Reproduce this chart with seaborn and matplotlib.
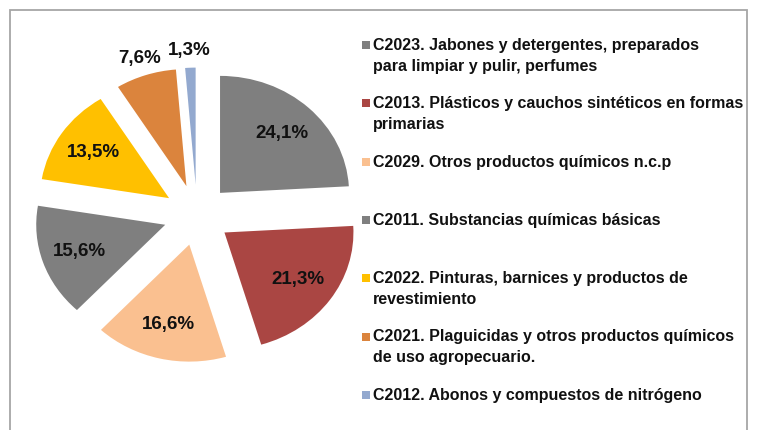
import matplotlib
matplotlib.use("Agg")
import matplotlib.pyplot as plt
import seaborn as sns
import numpy as np
from matplotlib.patches import Rectangle

# datos del gráfico
categorias = [
    "C2023. Jabones y detergentes, preparados\npara limpiar y pulir, perfumes",
    "C2013. Plásticos y cauchos sintéticos en formas\nprimarias",
    "C2029. Otros productos químicos n.c.p",
    "C2011. Substancias químicas básicas",
    "C2022. Pinturas, barnices y productos de\nrevestimiento",
    "C2021. Plaguicidas y otros productos químicos\nde uso agropecuario.",
    "C2012. Abonos y compuestos de nitrógeno",
]
porcentajes = [24.1, 21.3, 16.6, 15.6, 13.5, 7.6, 1.3]
colores = ["#7F7F7F", "#AA4643", "#FAC090", "#7F7F7F", "#FFC000", "#DB843D", "#93A9CF"]

sns.set_style("white")
plt.rcParams['font.family'] = ['Liberation Sans', 'DejaVu Sans']

W, H = 758, 430
fig = plt.figure(figsize=(W / 100, H / 100), dpi=100)


def px(x, y):
    """pixeles -> fracción de figura"""
    return x / W, 1 - y / H


# marco gris alrededor
fig.add_artist(Rectangle((10 / W, -0.05), (747 - 10) / W, 1 - 10 / H + 0.05,
                         transform=fig.transFigure, fill=False,
                         edgecolor="#A6A6A6", linewidth=1.3))

# torta (algo achatada, como en el original)
RX, RY = 129, 117
cx, cy = 197, 215
lim = 1.5
ax = fig.add_axes([(cx - lim * RX) / W, (H - cy - lim * RY) / H,
                   2 * lim * RX / W, 2 * lim * RY / H])
wedges, _ = ax.pie(porcentajes, colors=colores, startangle=90, counterclock=False,
                   explode=[0.26] * len(porcentajes), radius=1,
                   wedgeprops=dict(linewidth=0))
ax.set_xlim(-lim, lim)
ax.set_ylim(-lim, lim)
ax.set_aspect("auto")
ax.axis("off")

for w, v in zip(wedges, porcentajes):
    ang = np.deg2rad((w.theta1 + w.theta2) / 2)
    dist = 0.7 if v > 10 else 1.15
    x = w.center[0] + dist * w.r * np.cos(ang)
    y = w.center[1] + dist * w.r * np.sin(ang)
    txt = f"{v:.1f}".replace(".", ",") + "%"
    ax.text(x, y, txt, ha="center", va="center", fontsize=13.5,
            fontweight="bold", color="#111111")

# leyenda manual
for i, (cat, col) in enumerate(zip(categorias, colores)):
    base = 52 + i * 58.3
    mx, my = px(362, base - 3)
    fig.add_artist(Rectangle((mx, my), 8 / W, 8 / H, transform=fig.transFigure,
                             facecolor=col, edgecolor="none"))
    tx, ty = px(373, base - 14)
    fig.text(tx, ty, cat, ha="left", va="top", fontsize=11.5,
             fontweight="bold", color="#111111", linespacing=1.48)

fig.savefig("out.png", dpi=100, facecolor="white")
